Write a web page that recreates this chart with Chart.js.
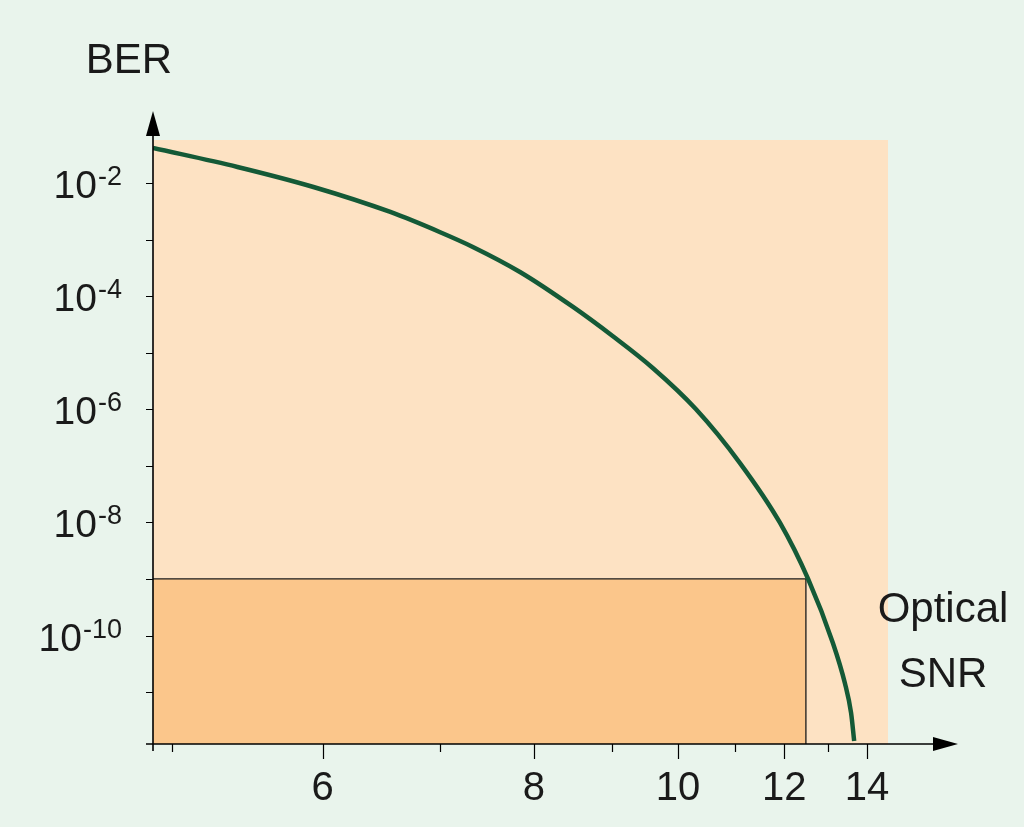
<!DOCTYPE html>
<html>
<head>
<meta charset="utf-8">
<title>BER vs Optical SNR</title>
<script src="https://cdn.jsdelivr.net/npm/chart.js@4/dist/chart.umd.min.js"></script>
<style>
  html, body { margin: 0; padding: 0; background: #E9F4EC; }
  canvas { display: block; }
</style>
</head>
<body>
<canvas id="berChart" width="1024" height="827"></canvas>
<script>
// Values: optical SNR vs bit error rate
const snr = [4.89, 5.40, 5.93, 6.55, 7.00, 7.33, 7.84, 8.48, 9.01, 9.60,
  10.30, 11.10, 11.91, 12.53, 13.12, 13.42, 13.58, 13.66];
const ber = [4.16e-2, 1.92e-2, 8.5e-3, 3.07e-3, 1.36e-3, 7.4e-4, 2.67e-4, 6.43e-5, 1.97e-5, 5.37e-6,
  1.01e-6, 1.12e-7, 9.77e-9, 1.0e-9, 7.4e-11, 1.45e-11, 4.28e-12, 1.37e-12];

// Axis ticks and labels
const xTicks = [5, 6, 7, 8, 9, 10, 11, 12, 13, 14];
const xLabels = [6, 8, 10, 12, 14];
const yTickExps = [-2, -3, -4, -5, -6, -7, -8, -9, -10, -11];
const yLabelExps = [-2, -4, -6, -8, -10];

// Axis ranges
const xMin = 4.89;
const xMax = 14.59;
const yMin = 1.21e-12;
const yMax = 0.0575;

// Required-performance box (BER 1e-9 reached at this SNR)
const berLimit = 1e-9;
const snrLimit = 12.48;

// The SNR axis in the figure is spaced linearly in 1/sqrt(SNR)
class InvSqrtScale extends Chart.LinearScale {
  tf(v) {
    return -1 / Math.sqrt(v);
  }
  getPixelForValue(value) {
    const a = this.tf(this.min);
    const b = this.tf(this.max);
    return this.getPixelForDecimal((this.tf(value) - a) / (b - a));
  }
  getValueForPixel(pixel) {
    const a = this.tf(this.min);
    const b = this.tf(this.max);
    const t = a + this.getDecimalForPixel(pixel) * (b - a);
    return 1 / (t * t);
  }
}
InvSqrtScale.id = 'invsqrt';
InvSqrtScale.defaults = Chart.LinearScale.defaults;
Chart.register(InvSqrtScale);

const FONT = '"Liberation Sans", Arial, sans-serif';

const decorPlugin = {
  id: 'decor',
  beforeDraw(chart) {
    const { ctx } = chart;
    ctx.save();
    ctx.fillStyle = '#E9F4EC';
    ctx.fillRect(0, 0, chart.width, chart.height);
    ctx.restore();
  },
  beforeDatasetsDraw(chart) {
    const { ctx, chartArea: a, scales: { x, y } } = chart;
    ctx.save();
    ctx.fillStyle = '#FDE2C3';
    ctx.fillRect(a.left, a.top, a.right - a.left, a.bottom - a.top);

    const rx = x.getPixelForValue(snrLimit);
    const ry = y.getPixelForValue(berLimit);
    ctx.fillStyle = '#FBC68B';
    ctx.fillRect(a.left, ry, rx - a.left, a.bottom - ry);
    ctx.strokeStyle = '#1a1a1a';
    ctx.lineWidth = 1.3;
    ctx.beginPath();
    ctx.moveTo(a.left, ry);
    ctx.lineTo(rx, ry);
    ctx.lineTo(rx, a.bottom);
    ctx.stroke();
    ctx.restore();
  },
  afterDraw(chart) {
    const { ctx, chartArea: a, scales: { x, y } } = chart;
    ctx.save();
    ctx.strokeStyle = '#000';
    ctx.fillStyle = '#000';
    ctx.lineWidth = 1.6;

    // axis lines
    ctx.beginPath();
    ctx.moveTo(a.left, a.bottom + 7);
    ctx.lineTo(a.left, 134);
    ctx.moveTo(a.left - 7, a.bottom);
    ctx.lineTo(936, a.bottom);
    ctx.stroke();

    // arrow heads
    ctx.beginPath();
    ctx.moveTo(a.left, 111);
    ctx.lineTo(a.left - 7, 136);
    ctx.lineTo(a.left + 7, 136);
    ctx.closePath();
    ctx.fill();
    ctx.beginPath();
    ctx.moveTo(958, a.bottom);
    ctx.lineTo(933, a.bottom - 7);
    ctx.lineTo(933, a.bottom + 7);
    ctx.closePath();
    ctx.fill();

    // y ticks
    ctx.lineWidth = 1.2;
    ctx.beginPath();
    yTickExps.forEach((e) => {
      const py = Math.round(y.getPixelForValue(Math.pow(10, e))) + 0.5;
      ctx.moveTo(a.left - 7, py);
      ctx.lineTo(a.left, py);
    });
    // x ticks, longer at labelled values
    xTicks.forEach((v) => {
      const px = Math.round(x.getPixelForValue(v)) + 0.5;
      const len = xLabels.includes(v) ? 15 : 8;
      ctx.moveTo(px, a.bottom);
      ctx.lineTo(px, a.bottom + len);
    });
    ctx.stroke();

    ctx.fillStyle = '#1a1a1a';
    // y labels: 10 with superscript exponent, right aligned
    yLabelExps.forEach((e) => {
      const py = y.getPixelForValue(Math.pow(10, e));
      const sup = String(e);
      ctx.font = '27px ' + FONT;
      ctx.textAlign = 'right';
      ctx.textBaseline = 'alphabetic';
      ctx.fillText(sup, 122, py + 2);
      const supW = ctx.measureText(sup).width;
      ctx.font = '39px ' + FONT;
      ctx.fillText('10', 122 - supW - 1, py + 15);
    });

    // x labels
    ctx.font = '40px ' + FONT;
    ctx.textAlign = 'center';
    xLabels.forEach((v) => {
      ctx.fillText(String(v), x.getPixelForValue(v), a.bottom + 56);
    });

    // axis titles
    ctx.font = '42px ' + FONT;
    ctx.fillText('BER', 129, 73);
    ctx.fillText('Optical', 943, 622);
    ctx.fillText('SNR', 943, 687);
    ctx.restore();
  }
};

const ctx = document.getElementById('berChart').getContext('2d');
new Chart(ctx, {
  type: 'line',
  data: {
    datasets: [
      {
        label: 'BER',
        data: snr.map((s, i) => ({ x: s, y: ber[i] })),
        borderColor: '#145A37',
        borderWidth: 4.5,
        pointRadius: 0,
        cubicInterpolationMode: 'monotone',
        fill: false,
      },
    ],
  },
  options: {
    responsive: false,
    animation: false,
    devicePixelRatio: 1,
    layout: {
      padding: { left: 153, right: 136, top: 140, bottom: 83 },
    },
    plugins: {
      legend: { display: false },
      tooltip: { enabled: false },
    },
    scales: {
      x: {
        type: 'invsqrt',
        display: false,
        min: xMin,
        max: xMax,
      },
      y: {
        type: 'logarithmic',
        display: false,
        min: yMin,
        max: yMax,
      },
    },
  },
  plugins: [decorPlugin],
});
</script>
</body>
</html>
